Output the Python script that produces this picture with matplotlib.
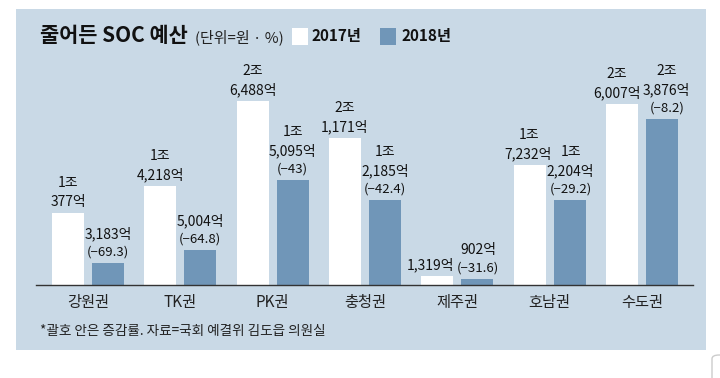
import numpy as np
import matplotlib
matplotlib.use('Agg')
import matplotlib.pyplot as plt
from matplotlib import font_manager
from matplotlib.patches import Rectangle, FancyBboxPatch

# 데이터 (단위: 억원)
regions = ['강원권', 'TK권', 'PK권', '충청권', '제주권', '호남권', '수도권']
budget_2017 = [10377, 14218, 26488, 21171, 1319, 17232, 26007]
budget_2018 = [3183, 5004, 15095, 12185, 902, 12204, 23876]
change_pct = ['−69.3', '−64.8', '−43', '−42.4', '−31.6', '−29.2', '−8.2']
labels_2017 = [['1조', '377억'], ['1조', '4,218억'], ['2조', '6,488억'], ['2조', '1,171억'],
               ['1,319억'], ['1조', '7,232억'], ['2조', '6,007억']]
labels_2018 = [['3,183억'], ['5,004억'], ['1조', '5,095억'], ['1조', '2,185억'],
               ['902억'], ['1조', '2,204억'], ['2조', '3,876억']]

names = {f.name for f in font_manager.fontManager.ttflist}
if 'Liberation Sans Narrow' in names:
    fam = ['Liberation Sans Narrow', 'Noto Sans CJK KR', 'DejaVu Sans']
    narrow = True
else:
    fam = ['Noto Sans CJK KR', 'DejaVu Sans']
    narrow = False
plt.rcParams['font.family'] = fam

panel_color = '#c9d9e6'
blue = '#7096b8'

W, H = 720, 378
fig = plt.figure(figsize=(7.2, 3.78), dpi=100)
fig.patch.set_facecolor('white')

def fx(px):
    return px / W

def fy(py):
    return 1 - py / H

# 배경 패널
fig.patches.append(Rectangle((fx(16), fy(350)), fx(690), (350 - 9) / H,
                             transform=fig.transFigure, facecolor=panel_color,
                             edgecolor='none', zorder=-10))
fig.patches.append(FancyBboxPatch((fx(712), fy(400)), fx(20), 45 / H,
                                  boxstyle='round,pad=0,rounding_size=0.01',
                                  transform=fig.transFigure, facecolor='white',
                                  edgecolor='#cccccc', lw=1, zorder=-10))

# 축 (x: 36~693px, y: 60~285px)
ax = fig.add_axes([fx(36), fy(285), fx(657), 225 / H])
ax.set_facecolor('none')
ax.set_zorder(5)
px_per_unit = 92.3
ax.set_xlim((36 - 88) / px_per_unit, (693 - 88) / px_per_unit)
ax.set_ylim(0, 225 / 6.955 * 1000)

x = np.arange(len(regions))
bw = 32 / px_per_unit
off = 20 / px_per_unit
ax.bar(x - off, budget_2017, bw, color='white', zorder=2)
ax.bar(x + off, budget_2018, bw, color=blue, zorder=2)

for s in ['top', 'left', 'right']:
    ax.spines[s].set_visible(False)
ax.spines['bottom'].set_color('#333333')
ax.spines['bottom'].set_linewidth(1)
ax.set_xticks([])
ax.set_yticks([])

fs = 12.5 if narrow else 10
fs_p = 11 if narrow else 9.5
# 겹치지 않도록 약간 옆으로 (px)
shift_2017 = [0, 0, 0, 0, -7, -1, -5]
shift_2018 = [0, 0, 0, 0, 1, 1, 5]

for i in range(len(regions)):
    lines = labels_2017[i]
    offs = [11, 30][:len(lines)][::-1]
    for t, o in zip(lines, offs):
        ax.annotate(t, (x[i] - off, budget_2017[i]), xytext=(shift_2017[i], o),
                    textcoords='offset pixels', ha='center', va='center',
                    fontsize=fs, color='#111111', annotation_clip=False)
    lines = labels_2018[i]
    offs = [29, 48][:len(lines)][::-1]
    for t, o in zip(lines, offs):
        ax.annotate(t, (x[i] + off, budget_2018[i]), xytext=(shift_2018[i], o),
                    textcoords='offset pixels', ha='center', va='center',
                    fontsize=fs, color='#111111', annotation_clip=False)
    ax.annotate('(' + change_pct[i] + ')', (x[i] + off, budget_2018[i]),
                xytext=(shift_2018[i], 11),
                textcoords='offset pixels', ha='center', va='center',
                fontsize=fs_p, color='#111111', annotation_clip=False)
    # 지역명
    fig.text(fx(88 + px_per_unit * i), fy(303), regions[i], ha='center', va='center',
             fontsize=12 if narrow else 11, color='#222222')

# 제목 / 범례
fig.text(fx(40), fy(36), '줄어든 SOC 예산', ha='left', va='center', fontsize=15,
         fontweight='bold', family=['Noto Sans CJK KR', 'DejaVu Sans'], color='#111111')
fig.text(fx(195), fy(37), '(단위=원 · %)', ha='left', va='center', fontsize=10.8,
         family=['Noto Sans CJK KR', 'DejaVu Sans'], color='#222222')
fig.patches.append(Rectangle((fx(292), fy(45)), fx(16), 17 / H, transform=fig.transFigure,
                             facecolor='white', edgecolor='none'))
fig.text(fx(312), fy(36), '2017년', ha='left', va='center', fontsize=13 if narrow else 11,
         fontweight='bold', color='#111111')
fig.patches.append(Rectangle((fx(380), fy(45)), fx(16), 17 / H, transform=fig.transFigure,
                             facecolor=blue, edgecolor='none'))
fig.text(fx(402), fy(36), '2018년', ha='left', va='center', fontsize=13 if narrow else 11,
         fontweight='bold', color='#111111')

fig.text(fx(40), fy(331), '*괄호 안은 증감률. 자료=국회 예결위 김도읍 의원실', ha='left', va='center',
         fontsize=9.5 if narrow else 9.8, color='#222222')

fig.savefig('out.png', dpi=100)
